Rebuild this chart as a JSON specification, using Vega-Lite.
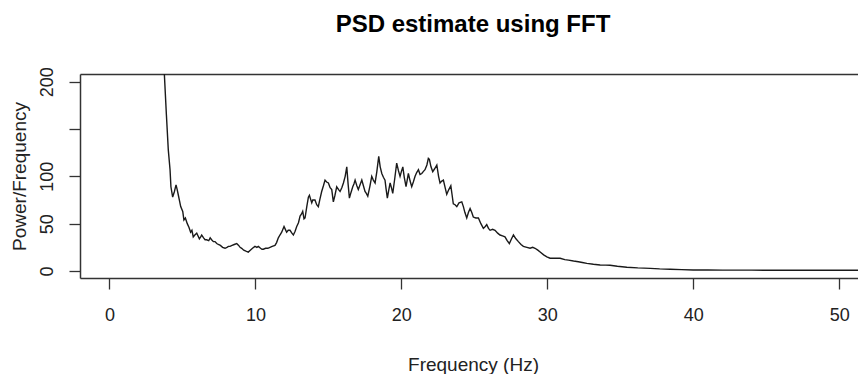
{
  "$schema": "https://vega.github.io/schema/vega-lite/v6.json",
  "autosize": "none",
  "padding": {"left": 80, "top": 74, "right": 0, "bottom": 96},
  "width": 778,
  "height": 204,
  "background": "white",
  "config": {
    "view": {"stroke": null},
    "font": "Liberation Sans",
    "axis": {"grid": false, "labelFont": "Liberation Sans", "titleFont": "Liberation Sans"}
  },
  "title": {
    "text": "PSD estimate using FFT",
    "font": "Liberation Sans",
    "fontSize": 24,
    "fontWeight": "bold",
    "color": "#000000",
    "frame": "group",
    "anchor": "middle",
    "dx": 4,
    "offset": 11,
    "baseline": "alphabetic"
  },
  "data": {
    "values": [
      {"f": 0, "p": 9000}, {"f": 0.5, "p": 4000}, {"f": 1, "p": 2000}, {"f": 1.5, "p": 1200},
      {"f": 2, "p": 800}, {"f": 2.5, "p": 550}, {"f": 3, "p": 380}, {"f": 3.5, "p": 260},
      {"f": 3.76, "p": 208}, {"f": 3.9, "p": 165}, {"f": 4.03, "p": 128}, {"f": 4.15, "p": 107},
      {"f": 4.21, "p": 89}, {"f": 4.33, "p": 78}, {"f": 4.45, "p": 84}, {"f": 4.56, "p": 91},
      {"f": 4.64, "p": 86}, {"f": 4.72, "p": 80}, {"f": 4.8, "p": 74}, {"f": 4.88, "p": 68},
      {"f": 5.02, "p": 63}, {"f": 5.1, "p": 54}, {"f": 5.2, "p": 56}, {"f": 5.33, "p": 50},
      {"f": 5.45, "p": 46}, {"f": 5.56, "p": 41}, {"f": 5.65, "p": 43}, {"f": 5.74, "p": 36},
      {"f": 5.85, "p": 38}, {"f": 5.98, "p": 40}, {"f": 6.07, "p": 37}, {"f": 6.16, "p": 34},
      {"f": 6.25, "p": 36}, {"f": 6.32, "p": 38}, {"f": 6.45, "p": 35}, {"f": 6.55, "p": 33},
      {"f": 6.66, "p": 33}, {"f": 6.8, "p": 32}, {"f": 6.9, "p": 35}, {"f": 7.0, "p": 33},
      {"f": 7.12, "p": 31}, {"f": 7.23, "p": 31}, {"f": 7.35, "p": 29}, {"f": 7.46, "p": 28},
      {"f": 7.6, "p": 27}, {"f": 7.75, "p": 25}, {"f": 7.92, "p": 24}, {"f": 8.05, "p": 25},
      {"f": 8.15, "p": 26}, {"f": 8.26, "p": 26}, {"f": 8.4, "p": 27}, {"f": 8.55, "p": 28},
      {"f": 8.72, "p": 29}, {"f": 8.85, "p": 27}, {"f": 8.95, "p": 25}, {"f": 9.06, "p": 24},
      {"f": 9.2, "p": 22}, {"f": 9.35, "p": 21}, {"f": 9.51, "p": 20}, {"f": 9.65, "p": 22},
      {"f": 9.8, "p": 24}, {"f": 9.97, "p": 26}, {"f": 10.1, "p": 25}, {"f": 10.2, "p": 26},
      {"f": 10.35, "p": 24}, {"f": 10.45, "p": 23}, {"f": 10.54, "p": 23}, {"f": 10.7, "p": 24},
      {"f": 10.85, "p": 24}, {"f": 11.0, "p": 25}, {"f": 11.15, "p": 26}, {"f": 11.34, "p": 27},
      {"f": 11.45, "p": 30}, {"f": 11.57, "p": 35}, {"f": 11.68, "p": 38}, {"f": 11.8, "p": 41},
      {"f": 11.96, "p": 47}, {"f": 12.05, "p": 44}, {"f": 12.14, "p": 41}, {"f": 12.25, "p": 43},
      {"f": 12.37, "p": 43}, {"f": 12.5, "p": 40}, {"f": 12.6, "p": 38}, {"f": 12.72, "p": 42},
      {"f": 12.83, "p": 47}, {"f": 12.95, "p": 51}, {"f": 13.06, "p": 58}, {"f": 13.15, "p": 60},
      {"f": 13.24, "p": 63}, {"f": 13.33, "p": 55}, {"f": 13.4, "p": 56}, {"f": 13.52, "p": 68},
      {"f": 13.63, "p": 78}, {"f": 13.7, "p": 80}, {"f": 13.86, "p": 72}, {"f": 13.93, "p": 75},
      {"f": 14.08, "p": 75}, {"f": 14.2, "p": 70}, {"f": 14.31, "p": 68}, {"f": 14.42, "p": 76},
      {"f": 14.54, "p": 84}, {"f": 14.66, "p": 90}, {"f": 14.77, "p": 96}, {"f": 14.88, "p": 94},
      {"f": 15.0, "p": 93}, {"f": 15.12, "p": 88}, {"f": 15.23, "p": 86}, {"f": 15.34, "p": 73},
      {"f": 15.45, "p": 80}, {"f": 15.57, "p": 89}, {"f": 15.7, "p": 86}, {"f": 15.8, "p": 84},
      {"f": 15.92, "p": 88}, {"f": 16.03, "p": 93}, {"f": 16.15, "p": 100}, {"f": 16.26, "p": 110},
      {"f": 16.35, "p": 92}, {"f": 16.44, "p": 77}, {"f": 16.55, "p": 83}, {"f": 16.67, "p": 89},
      {"f": 16.75, "p": 92}, {"f": 16.83, "p": 96}, {"f": 16.95, "p": 90}, {"f": 17.05, "p": 86},
      {"f": 17.17, "p": 91}, {"f": 17.29, "p": 96}, {"f": 17.4, "p": 90}, {"f": 17.51, "p": 84},
      {"f": 17.6, "p": 82}, {"f": 17.7, "p": 79}, {"f": 17.85, "p": 90}, {"f": 17.97, "p": 100},
      {"f": 18.08, "p": 96}, {"f": 18.2, "p": 93}, {"f": 18.32, "p": 105}, {"f": 18.45, "p": 121},
      {"f": 18.55, "p": 110}, {"f": 18.66, "p": 103}, {"f": 18.77, "p": 99}, {"f": 18.88, "p": 96},
      {"f": 18.96, "p": 86}, {"f": 19.04, "p": 77}, {"f": 19.13, "p": 85}, {"f": 19.23, "p": 93},
      {"f": 19.32, "p": 88}, {"f": 19.41, "p": 82}, {"f": 19.55, "p": 98}, {"f": 19.68, "p": 114},
      {"f": 19.8, "p": 106}, {"f": 19.91, "p": 100}, {"f": 20.0, "p": 105}, {"f": 20.1, "p": 110},
      {"f": 20.2, "p": 99}, {"f": 20.32, "p": 89}, {"f": 20.4, "p": 96}, {"f": 20.48, "p": 103},
      {"f": 20.6, "p": 95}, {"f": 20.71, "p": 89}, {"f": 20.82, "p": 94}, {"f": 20.94, "p": 100},
      {"f": 21.05, "p": 104}, {"f": 21.17, "p": 107}, {"f": 21.28, "p": 102}, {"f": 21.4, "p": 103},
      {"f": 21.5, "p": 105}, {"f": 21.62, "p": 107}, {"f": 21.75, "p": 112}, {"f": 21.85, "p": 119},
      {"f": 21.92, "p": 118}, {"f": 22.03, "p": 110}, {"f": 22.15, "p": 105}, {"f": 22.28, "p": 108},
      {"f": 22.43, "p": 112}, {"f": 22.55, "p": 100}, {"f": 22.65, "p": 93}, {"f": 22.77, "p": 95},
      {"f": 22.88, "p": 96}, {"f": 23.0, "p": 88}, {"f": 23.11, "p": 81}, {"f": 23.25, "p": 86},
      {"f": 23.39, "p": 90}, {"f": 23.48, "p": 80}, {"f": 23.56, "p": 71}, {"f": 23.68, "p": 70},
      {"f": 23.8, "p": 68}, {"f": 23.95, "p": 72}, {"f": 24.14, "p": 73}, {"f": 24.25, "p": 68},
      {"f": 24.35, "p": 62}, {"f": 24.48, "p": 56}, {"f": 24.6, "p": 62}, {"f": 24.71, "p": 66},
      {"f": 24.82, "p": 62}, {"f": 24.93, "p": 57}, {"f": 25.1, "p": 56}, {"f": 25.28, "p": 56},
      {"f": 25.45, "p": 50}, {"f": 25.62, "p": 45}, {"f": 25.75, "p": 47}, {"f": 25.85, "p": 49},
      {"f": 25.97, "p": 45}, {"f": 26.08, "p": 43}, {"f": 26.25, "p": 44}, {"f": 26.42, "p": 43},
      {"f": 26.6, "p": 40}, {"f": 26.76, "p": 38}, {"f": 26.93, "p": 37}, {"f": 27.1, "p": 36},
      {"f": 27.25, "p": 32}, {"f": 27.4, "p": 29}, {"f": 27.55, "p": 34}, {"f": 27.68, "p": 38},
      {"f": 27.85, "p": 34}, {"f": 28.02, "p": 31}, {"f": 28.2, "p": 28}, {"f": 28.36, "p": 26},
      {"f": 28.6, "p": 25}, {"f": 28.82, "p": 24}, {"f": 29.0, "p": 25}, {"f": 29.16, "p": 24},
      {"f": 29.35, "p": 22}, {"f": 29.51, "p": 20}, {"f": 29.75, "p": 17}, {"f": 29.97, "p": 15},
      {"f": 30.19, "p": 13.5}, {"f": 30.5, "p": 13.5}, {"f": 30.88, "p": 13.5}, {"f": 31.2, "p": 12},
      {"f": 31.45, "p": 11.5}, {"f": 31.8, "p": 10.5}, {"f": 32.13, "p": 9.8}, {"f": 32.4, "p": 9},
      {"f": 32.71, "p": 8.1}, {"f": 33.16, "p": 7.1}, {"f": 33.62, "p": 6.3}, {"f": 34.0, "p": 6.2},
      {"f": 34.3, "p": 6}, {"f": 34.8, "p": 5}, {"f": 35.45, "p": 4}, {"f": 36.2, "p": 3.3},
      {"f": 37.05, "p": 2.8}, {"f": 37.7, "p": 2.2}, {"f": 38.42, "p": 1.8}, {"f": 39.2, "p": 1.4},
      {"f": 40.0, "p": 1.1}, {"f": 41, "p": 1.0}, {"f": 42, "p": 0.9}, {"f": 44, "p": 0.9},
      {"f": 46, "p": 0.8}, {"f": 48, "p": 0.8}, {"f": 50, "p": 0.8}, {"f": 51.3, "p": 0.8}
    ]
  },
  "layer": [
    {
      "mark": {"type": "line", "clip": true, "stroke": "#1a1a1a", "strokeWidth": 1.4, "interpolate": "linear"},
      "encoding": {
        "x": {
          "field": "f",
          "type": "quantitative",
          "scale": {"domain": [-2.02, 51.29], "nice": false, "zero": false},
          "axis": {
            "orient": "bottom",
            "values": [0, 10, 20, 30, 40, 50],
            "tickSize": 11,
            "tickColor": "#333333",
            "tickWidth": 1.3,
            "domainColor": "#333333",
            "domainWidth": 1.5,
            "labelPadding": 17,
            "labelFontSize": 18,
            "labelColor": "#222222",
            "labelBaseline": "top",
            "labelFlush": false,
            "labelOverlap": false,
            "title": "Frequency (Hz)",
            "titleFontSize": 19,
            "titleFontWeight": "normal",
            "titleColor": "#222222",
            "titleX": 393,
            "titleY": 92.5,
            "titleAlign": "center",
            "titleBaseline": "alphabetic"
          }
        },
        "y": {
          "field": "p",
          "type": "quantitative",
          "scale": {"domain": [-7.4, 208.1], "nice": false, "zero": false},
          "axis": {
            "values": [0, 50, 100, 150, 200],
            "labelExpr": "datum.value == 150 ? '' : datum.label",
            "tickSize": 11,
            "tickColor": "#333333",
            "tickWidth": 1.3,
            "domainColor": "#333333",
            "domainWidth": 1.5,
            "labelAngle": 270,
            "labelAlign": "center",
            "labelBaseline": "alphabetic",
            "labelPadding": 16.5,
            "labelFontSize": 18,
            "labelColor": "#222222",
            "labelFlush": false,
            "labelOverlap": false,
            "labelBound": false,
            "title": "Power/Frequency",
            "titleFontSize": 19,
            "titleFontWeight": "normal",
            "titleColor": "#222222",
            "titleAngle": 270,
            "titleX": -54.5,
            "titleY": 102,
            "titleAlign": "center",
            "titleBaseline": "alphabetic"
          }
        }
      }
    },
    {
      "mark": {"type": "point", "opacity": 0, "clip": true},
      "encoding": {
        "x": {
          "field": "f",
          "type": "quantitative",
          "axis": {
            "orient": "top",
            "labels": false,
            "ticks": false,
            "title": null,
            "domainColor": "#333333",
            "domainWidth": 1.5
          }
        },
        "y": {"field": "p", "type": "quantitative"}
      }
    }
  ],
  "resolve": {"axis": {"x": "independent"}}
}
